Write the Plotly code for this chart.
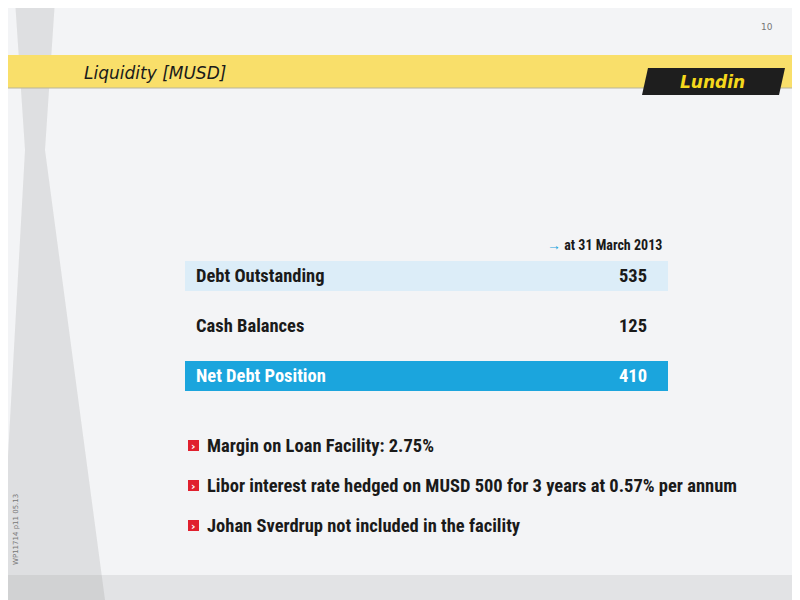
import plotly.graph_objects as go

row_labels = ["Debt Outstanding", "Cash Balances", "Net Debt Position"]
row_values = [535, 125, 410]
row_fill = ["#dcedf8", None, "#1ba5dd"]
row_text_color = ["#1a1a1a", "#1a1a1a", "#ffffff"]
bullets = ["Margin on Loan Facility: 2.75%",
           "Libor interest rate hedged on MUSD 500 for 3 years at 0.57% per annum",
           "Johan Sverdrup not included in the facility"]
title = "Liquidity [MUSD]"
date_label = "at 31 March 2013"

FONT = "Liberation Sans Narrow, Roboto Condensed, Arial Narrow, sans-serif"
fig = go.Figure()
shapes, ann = [], []

shapes.append(dict(type="rect", x0=0, x1=800, y0=575, y1=600, fillcolor="#e2e3e5", line_width=0, layer="below"))
shapes.append(dict(type="path", path="M 0 600 L 25 150 L 15 0 L 55 0 L 45 150 L 105 600 Z",
                   fillcolor="rgba(150,150,150,0.22)", line_width=0, layer="below"))
shapes.append(dict(type="rect", x0=0, x1=800, y0=55, y1=88, fillcolor="#f9df6a", line_width=0))
shapes.append(dict(type="line", x0=0, x1=800, y0=88, y1=88, line=dict(color="#b9b49a", width=1)))
shapes.append(dict(type="path", path="M 648 68 L 785 68 L 779 95 L 642 95 Z", fillcolor="#1e1e1e", line_width=0))
ann.append(dict(x=712, y=82, text="<b><i>Lundin</i></b>", showarrow=False,
                font=dict(family="DejaVu Sans", size=17, color="#f5d81c")))
ann.append(dict(x=82, y=73, text="<i>" + title + "</i>", xanchor="left", showarrow=False,
                font=dict(family="DejaVu Sans", size=17, color="#1a1a1a")))
ann.append(dict(x=775, y=27, text="10", xanchor="right", showarrow=False,
                font=dict(family="DejaVu Sans", size=9, color="#777")))
ann.append(dict(x=16, y=530, text="WP11714 p11 05.13", textangle=-90, showarrow=False,
                font=dict(family="DejaVu Sans", size=7, color="#777")))
ann.append(dict(x=664, y=245, text="<span style='color:#1ba5dd'>→</span> <b>" + date_label + "</b>",
                xanchor="right", showarrow=False, font=dict(family=FONT, size=14, color="#1a1a1a")))

for i, (lab, val) in enumerate(zip(row_labels, row_values)):
    yc = 276 + i * 50
    if row_fill[i]:
        shapes.append(dict(type="rect", x0=185, x1=668, y0=yc - 15, y1=yc + 15,
                           fillcolor=row_fill[i], line_width=0))
    ann.append(dict(x=194, y=yc, text="<b>" + lab + "</b>", xanchor="left", showarrow=False,
                    font=dict(family=FONT, size=18.5, color=row_text_color[i])))
    ann.append(dict(x=649, y=yc, text="<b>" + str(val) + "</b>", xanchor="right", showarrow=False,
                    font=dict(family=FONT, size=18.5, color=row_text_color[i])))

for i, b in enumerate(bullets):
    yc = 446 + i * 40
    shapes.append(dict(type="rect", x0=188, x1=199, y0=yc - 6, y1=yc + 5, fillcolor="#e0202e", line_width=0))
    ann.append(dict(x=193.5, y=yc, text="<b>›</b>", showarrow=False,
                    font=dict(family="DejaVu Sans", size=11, color="white")))
    ann.append(dict(x=205, y=yc, text="<b>" + b + "</b>", xanchor="left", showarrow=False,
                    font=dict(family=FONT, size=18.5, color="#1a1a1a")))

fig.update_layout(width=792, height=592, margin=dict(l=0, r=0, t=0, b=0),
                  paper_bgcolor="#f3f4f6", plot_bgcolor="rgba(0,0,0,0)",
                  xaxis=dict(range=[8, 800], visible=False, fixedrange=True),
                  yaxis=dict(range=[600, 8], visible=False, fixedrange=True),
                  shapes=shapes, annotations=ann, showlegend=False)
fig.write_html("out.html", config={"displayModeBar": False})
